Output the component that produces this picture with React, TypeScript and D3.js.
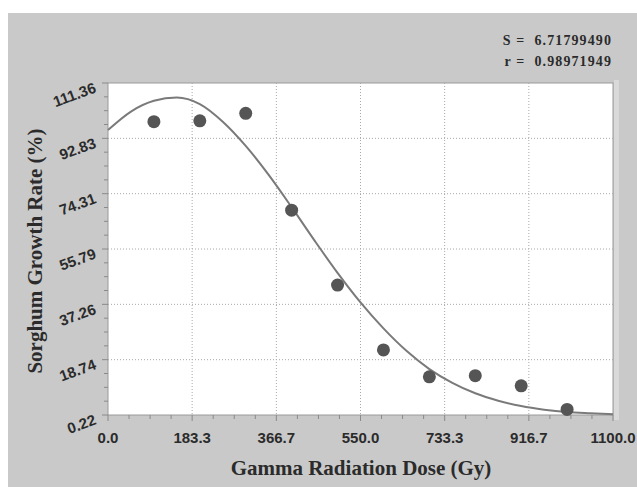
import React from 'react';
import * as d3 from 'd3';

// measured points (dose in Gy, growth rate in %)
const doses = [100, 200, 300, 400, 500, 600, 700, 800, 900, 1000];
const growth = [98.4, 98.7, 101.2, 68.8, 43.7, 22.0, 13.0, 13.4, 10.0, 2.1];

// fitted curve
const fitDoses = [0, 50, 100, 150, 200, 250, 300, 350, 400, 450, 500, 550, 600, 650, 700, 750, 800, 850, 900, 950, 1000, 1050, 1100];
const fitGrowth = [95.6, 101.8, 105.4, 106.5, 104.3, 98.4, 90.3, 80.6, 69.8, 58.6, 47.8, 37.9, 29.2, 21.7, 15.6, 11.0, 7.5, 5.0, 3.2, 2.0, 1.2, 0.8, 0.5];

const xTicks = [0, 183.3, 366.7, 550.0, 733.3, 916.7, 1100.0];
const yTicks = [0.22, 18.74, 37.26, 55.79, 74.31, 92.83, 111.36];

const statS = 'S =  6.71799490';
const statR = 'r =  0.98971949';

const W = 637;
const H = 487;
const plot = { left: 108, right: 613, top: 83, bottom: 415 };

export default function App() {
  const x = d3.scaleLinear().domain([0, 1100]).range([plot.left, plot.right]);
  const y = d3.scaleLinear().domain([0.22, 111.36]).range([plot.bottom, plot.top]);

  const line = d3
    .line<number>()
    .x((d, i) => x(fitDoses[i]))
    .y(d => y(d))
    .curve(d3.curveMonotoneX);

  // minor ticks: 4 subdivisions per major interval
  const xMinor: number[] = [];
  const yMinor: number[] = [];
  for (let i = 0; i < xTicks.length - 1; i++) {
    for (let k = 1; k < 4; k++) xMinor.push(xTicks[i] + ((xTicks[i + 1] - xTicks[i]) * k) / 4);
  }
  for (let i = 0; i < yTicks.length - 1; i++) {
    for (let k = 1; k < 4; k++) yMinor.push(yTicks[i] + ((yTicks[i + 1] - yTicks[i]) * k) / 4);
  }

  const tickFont = { fontFamily: '"Liberation Sans", Arial, sans-serif', fontWeight: 700, fontSize: 15, fill: '#2b2b2b' };
  const titleFont = { fontFamily: '"Liberation Serif", "Times New Roman", serif', fontWeight: 700, fontSize: 21, fill: '#2b2b2b' };
  const statFont = { ...titleFont, fontSize: 14, letterSpacing: 1.1, whiteSpace: 'pre' as const };

  return (
    <svg width={W} height={H} style={{ position: 'absolute', left: 0, top: 0, display: 'block' }}>
      <rect x={0} y={0} width={W} height={H} fill="#fff" />
      <rect x={8} y={13} width={W - 8} height={H - 13} fill="#c9c9c9" />
      <rect x={614} y={80} width={5} height={340} fill="#d9d9d9" />

      <rect x={plot.left} y={plot.top} width={plot.right - plot.left} height={plot.bottom - plot.top}
        fill="#fff" stroke="#9a9a9a" strokeWidth={1} />

      {/* grid */}
      {xTicks.slice(1, -1).map(t => (
        <line key={'gx' + t} x1={x(t)} x2={x(t)} y1={plot.top} y2={plot.bottom}
          stroke="#a8a8a8" strokeWidth={1} strokeDasharray="1,2" />
      ))}
      {yTicks.slice(1, -1).map(t => (
        <line key={'gy' + t} x1={plot.left} x2={plot.right} y1={y(t)} y2={y(t)}
          stroke="#a8a8a8" strokeWidth={1} strokeDasharray="1,2" />
      ))}

      {/* axis ticks */}
      {xTicks.map(t => (
        <line key={'tx' + t} x1={x(t)} x2={x(t)} y1={plot.bottom} y2={plot.bottom + 6} stroke="#8a8a8a" />
      ))}
      {xMinor.map(t => (
        <line key={'mx' + t} x1={x(t)} x2={x(t)} y1={plot.bottom} y2={plot.bottom + 4} stroke="#8a8a8a" />
      ))}
      {yTicks.map(t => (
        <line key={'ty' + t} x1={plot.left - 6} x2={plot.left} y1={y(t)} y2={y(t)} stroke="#8a8a8a" />
      ))}
      {yMinor.map(t => (
        <line key={'my' + t} x1={plot.left - 4} x2={plot.left} y1={y(t)} y2={y(t)} stroke="#8a8a8a" />
      ))}

      {/* tick labels */}
      {xTicks.map(t => (
        <text key={'lx' + t} x={x(t)} y={plot.bottom + 28} textAnchor="middle" style={tickFont}>
          {t.toFixed(1)}
        </text>
      ))}
      {yTicks.map(t => (
        <text key={'ly' + t} textAnchor="end" style={tickFont}
          transform={`translate(${plot.left - 11},${y(t) + 9}) rotate(-20)`}>
          {t.toFixed(2)}
        </text>
      ))}

      {/* fitted curve */}
      <path d={line(fitGrowth) || ''} fill="none" stroke="#7a7a7a" strokeWidth={2} />

      {/* points */}
      {doses.map((d, i) => (
        <circle key={'p' + d} cx={x(d)} cy={y(growth[i])} r={6.5} fill="#555" />
      ))}

      {/* titles */}
      <text x={361} y={475} textAnchor="middle" style={titleFont}>
        Gamma Radiation Dose (Gy)
      </text>
      <text transform={`translate(42,${(plot.top + plot.bottom) / 2 + 2}) rotate(-90)`} textAnchor="middle" style={titleFont}>
        Sorghum Growth Rate (%)
      </text>

      <text x={612} y={45} textAnchor="end" style={statFont}>
        {statS}
      </text>
      <text x={612} y={66} textAnchor="end" style={statFont}>
        {statR}
      </text>
    </svg>
  );
}
